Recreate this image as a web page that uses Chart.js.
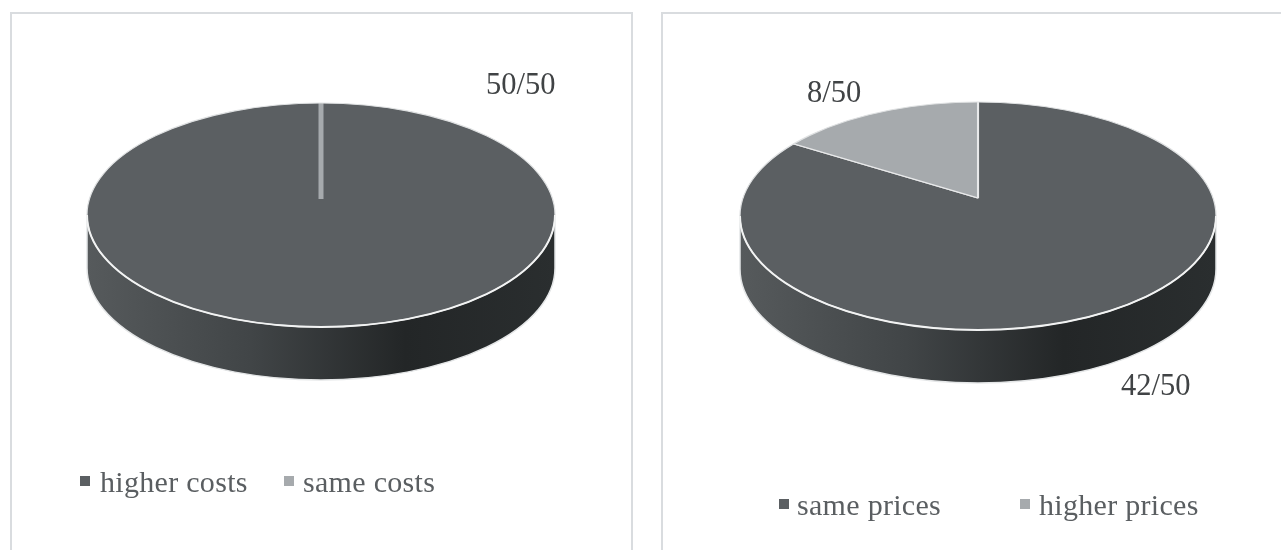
<!DOCTYPE html>
<html lang="en">

<head>
    <meta charset="UTF-8">
    <title>costs and prices</title>
    <script src="https://cdn.jsdelivr.net/npm/chart.js"></script>
    <style>
        html, body { margin: 0; padding: 0; background: #fff; overflow: hidden; }
        body { width: 1281px; height: 550px; position: relative; font-family: "Liberation Serif", serif; filter: blur(0.6px); }
        .panel { position: absolute; top: 12px; height: 560px; border: 2px solid #d9dcdf; box-sizing: border-box; }
        canvas { position: absolute; top: 0; }
        .txt { position: absolute; white-space: nowrap; line-height: 34px; height: 34px; }
        .count { font-size: 30.5px; color: #404345; }
        .leg { font-size: 30px; letter-spacing: 0.3px; color: #5a5e61; }
        .box { position: absolute; width: 10px; height: 10px; }
    </style>
</head>

<body>
    <div class="panel" style="left:10px;width:623px"></div>
    <div class="panel" style="left:661px;width:640px"></div>
    <canvas id="costs" width="640" height="550" style="left:0"></canvas>
    <canvas id="prices" width="641" height="550" style="left:640px"></canvas>

    <script>
        const costLabels = ['higher costs', 'same costs'];
        const costValues = [50, 0];
        const priceLabels = ['same prices', 'higher prices'];
        const priceValues = [42, 8];
        const total = 50;
        const sliceColors = ['#5b5f62', '#a6aaad'];

        // tilted disc: top face squeezed into an ellipse, wall painted underneath
        const disc3d = {
            id: 'disc3d',
            beforeDatasetsDraw(chart, args, o) {
                const ctx = chart.ctx;
                const arc = chart.getDatasetMeta(0).data[0];

                // wall
                const wall = ctx.createLinearGradient(o.cx - o.rx, 0, o.cx + o.rx, 0);
                wall.addColorStop(0, '#565a5c');
                wall.addColorStop(0.35, '#414547');
                wall.addColorStop(0.68, '#232627');
                wall.addColorStop(1, '#2a2e2f');
                ctx.save();
                ctx.beginPath();
                ctx.ellipse(o.cx, o.cy + o.depth, o.rx, o.ry, 0, 0, Math.PI);
                ctx.lineTo(o.cx - o.rx, o.cy);
                ctx.lineTo(o.cx + o.rx, o.cy);
                ctx.closePath();
                ctx.fillStyle = wall;
                ctx.fill();
                ctx.strokeStyle = '#e4e6e7';
                ctx.lineWidth = 1.5;
                ctx.stroke();
                ctx.restore();

                // slices, clipped to the top ellipse. apex sits above the ellipse centre
                ctx.save();
                ctx.beginPath();
                ctx.ellipse(o.cx, o.cy, o.rx, o.ry, 0, 0, Math.PI * 2);
                ctx.clip();
                ctx.save();
                const k = 1.6 / arc.outerRadius;
                ctx.translate(o.cx, o.apexY);
                ctx.scale(o.rx * k, o.apexRy * k);
                ctx.translate(-arc.x, -arc.y);
            },
            afterDatasetsDraw(chart, args, o) {
                const ctx = chart.ctx;
                const arcs = chart.getDatasetMeta(0).data;

                // a zero slice is only its edge line
                ctx.beginPath();
                let zeroColor = null;
                arcs.forEach((arc, i) => {
                    if (arc.circumference === 0) {
                        ctx.moveTo(arc.x, arc.y);
                        ctx.lineTo(arc.x + arc.outerRadius * Math.cos(arc.startAngle), arc.y + arc.outerRadius * Math.sin(arc.startAngle));
                        zeroColor = sliceColors[i];
                    }
                });
                ctx.restore();
                if (zeroColor) {
                    ctx.strokeStyle = zeroColor;
                    ctx.lineWidth = 5;
                    ctx.stroke();
                }
                ctx.restore();

                // rim
                ctx.save();
                ctx.beginPath();
                ctx.ellipse(o.cx, o.cy, o.rx, o.ry, 0, 0, Math.PI * 2);
                ctx.strokeStyle = '#dfe1e2';
                ctx.lineWidth = 1.2;
                ctx.stroke();
                ctx.beginPath();
                ctx.ellipse(o.cx, o.cy, o.rx, o.ry, 0, 0, Math.PI);
                ctx.strokeStyle = '#f2f3f3';
                ctx.lineWidth = 2;
                ctx.stroke();
                ctx.restore();
            }
        };

        function drawPie(id, labels, values, disc) {
            new Chart(document.getElementById(id), {
                type: 'pie',
                data: {
                    labels: labels,
                    datasets: [{
                        data: values,
                        backgroundColor: sliceColors,
                        borderColor: '#e8e9ea',
                        borderWidth: 1.5,
                        clip: false
                    }]
                },
                options: {
                    responsive: false,
                    animation: false,
                    plugins: {
                        legend: { display: false },
                        tooltip: { enabled: false },
                        disc3d: disc
                    }
                },
                plugins: [disc3d]
            });
        }

        function addText(cls, text, x, centerY) {
            const el = document.createElement('div');
            el.className = 'txt ' + cls;
            el.textContent = text;
            el.style.left = x + 'px';
            el.style.top = (centerY - 17) + 'px';
            document.body.appendChild(el);
        }

        function addLegendBox(color, x, y) {
            const el = document.createElement('div');
            el.className = 'box';
            el.style.background = color;
            el.style.left = x + 'px';
            el.style.top = y + 'px';
            document.body.appendChild(el);
        }

        drawPie('costs', costLabels, costValues, { cx: 321, cy: 215, rx: 234, ry: 112, depth: 53, apexY: 199, apexRy: 108 });
        drawPie('prices', priceLabels, priceValues, { cx: 338, cy: 216, rx: 238, ry: 114, depth: 53, apexY: 198, apexRy: 110 });

        addText('count', costValues[0] + '/' + total, 486, 84);
        addText('count', priceValues[1] + '/' + total, 807, 92);
        addText('count', priceValues[0] + '/' + total, 1121, 385);

        addLegendBox(sliceColors[0], 80, 476);
        addText('leg', costLabels[0], 100, 482);
        addLegendBox(sliceColors[1], 284, 476);
        addText('leg', costLabels[1], 303, 482);

        addLegendBox(sliceColors[0], 779, 499);
        addText('leg', priceLabels[0], 797, 505);
        addLegendBox(sliceColors[1], 1020, 499);
        addText('leg', priceLabels[1], 1039, 505);
    </script>
</body>

</html>
